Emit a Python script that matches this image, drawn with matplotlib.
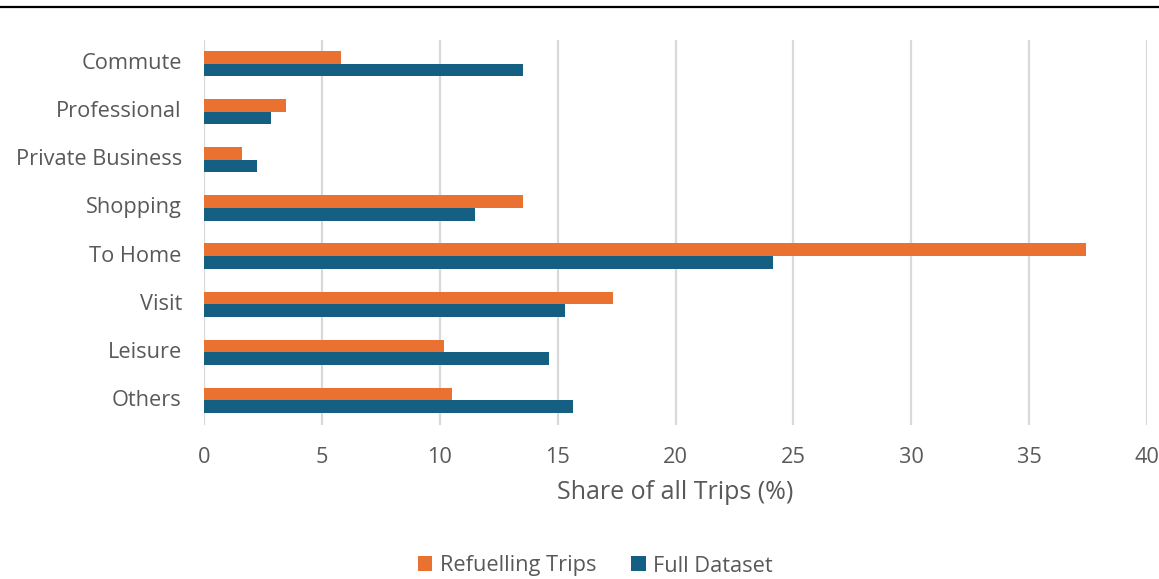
import matplotlib
matplotlib.use("Agg")
import matplotlib.pyplot as plt
import numpy as np
from matplotlib.lines import Line2D

# Trip purposes and their share of all trips (%)
categories = ["Commute", "Professional", "Private Business", "Shopping",
              "To Home", "Visit", "Leisure", "Others"]
refuelling_trips = [5.83, 3.46, 1.60, 13.55, 37.41, 17.33, 10.18, 10.50]
full_dataset = [13.53, 2.86, 2.23, 11.50, 24.14, 15.33, 14.65, 15.64]
xticks = [0, 5, 10, 15, 20, 25, 30, 35, 40]

ORANGE = "#E97132"
BLUE = "#156082"
TEXT = "#595959"
GRID = "#D9D9D9"

plt.rcParams["font.family"] = ["Open Sans", "DejaVu Sans"]

fig = plt.figure(figsize=(11.59, 5.79), dpi=100)
ax = fig.add_axes([204 / 1159, 1 - 424.5 / 579, (1147 - 204) / 1159, (424.5 - 39.5) / 579])

y = np.arange(len(categories))
h = 0.262
ax.barh(y - h / 2, refuelling_trips, height=h, color=ORANGE, label="Refuelling Trips", zorder=3)
ax.barh(y + h / 2, full_dataset, height=h, color=BLUE, label="Full Dataset", zorder=3)

ax.set_ylim(len(categories) - 0.5, -0.5)
ax.set_xlim(0, 40)
ax.set_xticks(xticks)
ax.set_xticklabels([str(t) for t in xticks])
ax.set_yticks(y)
ax.set_yticklabels(categories, va="center")

ax.tick_params(axis="both", length=0, labelsize=15.7, labelcolor=TEXT)
ax.tick_params(axis="x", pad=16)
ax.tick_params(axis="y", pad=16)

ax.grid(axis="x", color=GRID, linewidth=1.6, zorder=0)
ax.set_axisbelow(True)
for s in ax.spines.values():
    s.set_visible(False)

ax.set_xlabel("Share of all Trips (%)", fontsize=18, color=TEXT, labelpad=9)

leg = fig.legend(loc="center", bbox_to_anchor=(0.5 + 16 / 1159, 1 - 566 / 579), ncol=2,
                 frameon=False, fontsize=15.7, handlelength=0.66, handleheight=0.66,
                 handletextpad=0.35, columnspacing=1.6, borderaxespad=0)
for t in leg.get_texts():
    t.set_color(TEXT)

# Rule across the top of the figure
fig.add_artist(Line2D([0, 1], [1 - 6.5 / 579, 1 - 6.5 / 579], color="black",
                      linewidth=1.6, transform=fig.transFigure))

fig.savefig("out.png", dpi=100, facecolor="white")
